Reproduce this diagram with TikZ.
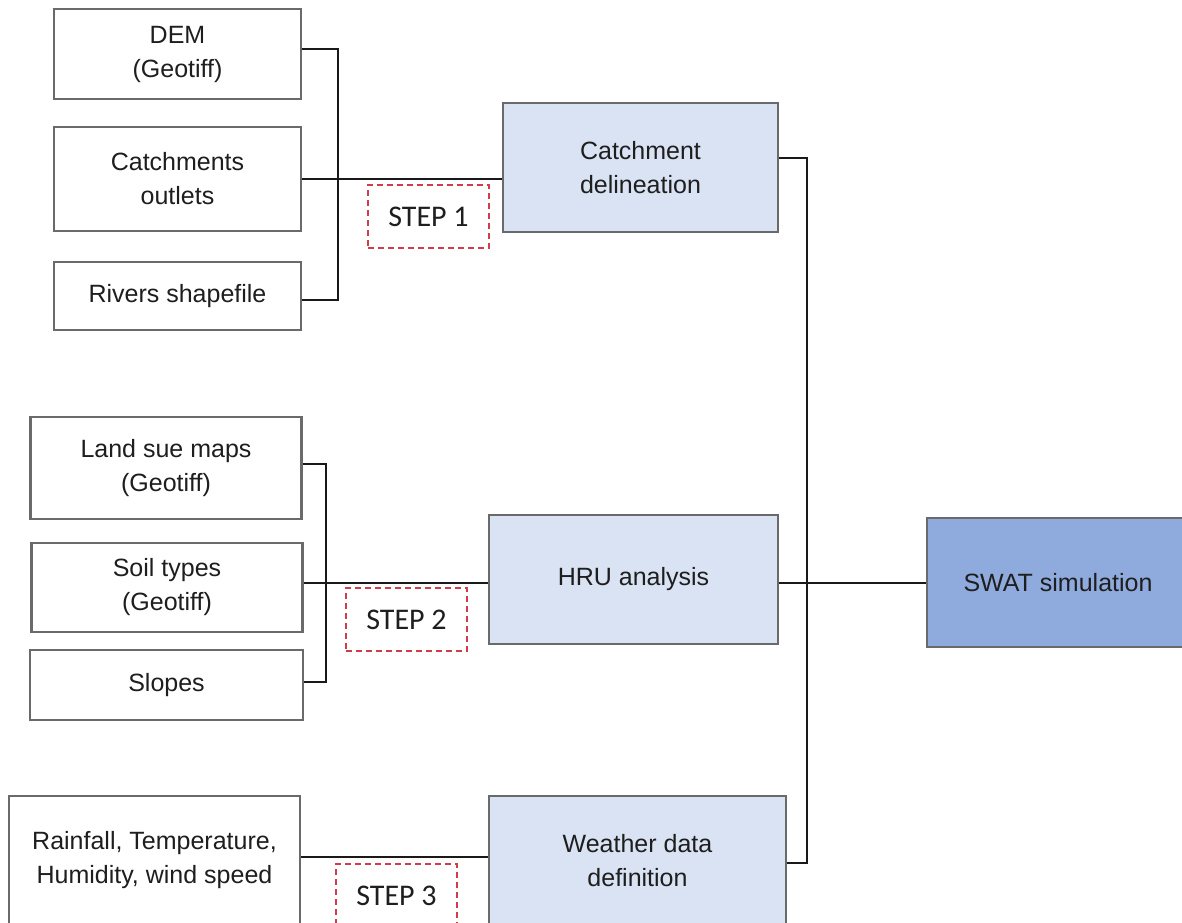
\documentclass[tikz,border=0pt]{standalone}
\usepackage{fontspec}
\setmainfont{Liberation Sans}
\newfontfamily\stepfont{Carlito}
\definecolor{boxline}{HTML}{6A6A6A}
\definecolor{paleblue}{HTML}{DAE3F3}
\definecolor{midblue}{HTML}{8FAADC}
\definecolor{txt}{HTML}{1E1E1E}
\definecolor{stepred}{HTML}{D23A4E}
\begin{document}
\begin{tikzpicture}[x=1pt,y=-1pt,
  inbox/.style={draw=boxline, line width=2.4pt, fill=white, inner sep=0pt,
    align=center, text=txt, font=\fontsize{25}{34}\selectfont},
  procbox/.style={inbox, fill=paleblue},
  mainbox/.style={inbox, fill=midblue},
  steplabel/.style={draw=stepred, line width=1.5pt, dash pattern=on 6pt off 4pt,
    fill=white, inner sep=0pt, minimum width=121pt, minimum height=63pt,
    text=txt, font=\stepfont\fontsize{30}{34}\selectfont},
  link/.style={draw=black!90, line width=2pt}]
\useasboundingbox (0,0) rectangle (1182,922);
\clip (0,0) rectangle (1182,922);
\fill[white] (0,0) rectangle (1182,922);

% step 1 inputs
\node[inbox, minimum width=247pt, minimum height=90pt] (dem) at (177.5,54) {DEM\\(Geotiff)};
\node[inbox, minimum width=247pt, minimum height=104pt] (outl) at (177.5,179) {Catchments\\outlets};
\node[inbox, minimum width=247pt, minimum height=68pt] (riv) at (177.5,296) {Rivers shapefile};
\node[procbox, minimum width=275pt, minimum height=129pt] (cd) at (640.5,167.5) {Catchment\\delineation};
\node[steplabel] (s1) at (428.5,216.5) {STEP 1};

% step 2 inputs
\node[inbox, minimum width=271pt, minimum height=102pt] (land) at (166,468) {Land sue maps\\(Geotiff)};
\node[inbox, minimum width=271pt, minimum height=89pt] (soil) at (167,587.5) {Soil types\\(Geotiff)};
\node[inbox, minimum width=273pt, minimum height=70pt] (slope) at (166.5,685) {Slopes};
\node[procbox, minimum width=289pt, minimum height=129pt] (hru) at (633.5,579.5) {HRU analysis};
\node[steplabel] (s2) at (406.5,619.5) {STEP 2};

% step 3 inputs
\node[inbox, minimum width=291pt, minimum height=129pt] (rain) at (154.5,860.5) {Rainfall, Temperature,\\Humidity, wind speed};
\node[procbox, minimum width=297pt, minimum height=129pt] (wd) at (637.5,860.5) {Weather data\\definition};
\node[steplabel] (s3) at (396.5,895.5) {STEP 3};

% model
\node[mainbox, minimum width=262pt, minimum height=129pt] (swat) at (1058,582.5) {SWAT simulation};

% junction columns
\coordinate (b1) at (338,0);
\coordinate (b2) at (326,0);
\coordinate (tr) at (807,0);

% step 1 bracket
\draw[link] ([yshift=5pt]dem.east) -- ([yshift=5pt]dem.east -| b1)
  -- ([yshift=-4pt]riv.east -| b1) -- ([yshift=-4pt]riv.east);
\draw[link] (outl.east) -- (outl.east -| cd.west);

% step 2 bracket
\draw[link] ([yshift=4pt]land.east) -- ([yshift=4pt]land.east -| b2)
  -- ([yshift=3pt]slope.east -| b2) -- ([yshift=3pt]slope.east);
\draw[link] ([yshift=4.5pt]soil.east) -- ([yshift=4.5pt]soil.east -| hru.west);

% step 3
\draw[link] ([yshift=3.5pt]rain.east) -- ([yshift=3.5pt]rain.east -| wd.west);

% collector trunk to the model
\draw[link] ([yshift=9.5pt]cd.east) -- ([yshift=9.5pt]cd.east -| tr)
  -- ([yshift=-2.5pt]wd.east -| tr) -- ([yshift=-2.5pt]wd.east);
\draw[link] ([yshift=-3.5pt]hru.east) -- ([yshift=-3.5pt]hru.east -| swat.west);
\end{tikzpicture}
\end{document}
